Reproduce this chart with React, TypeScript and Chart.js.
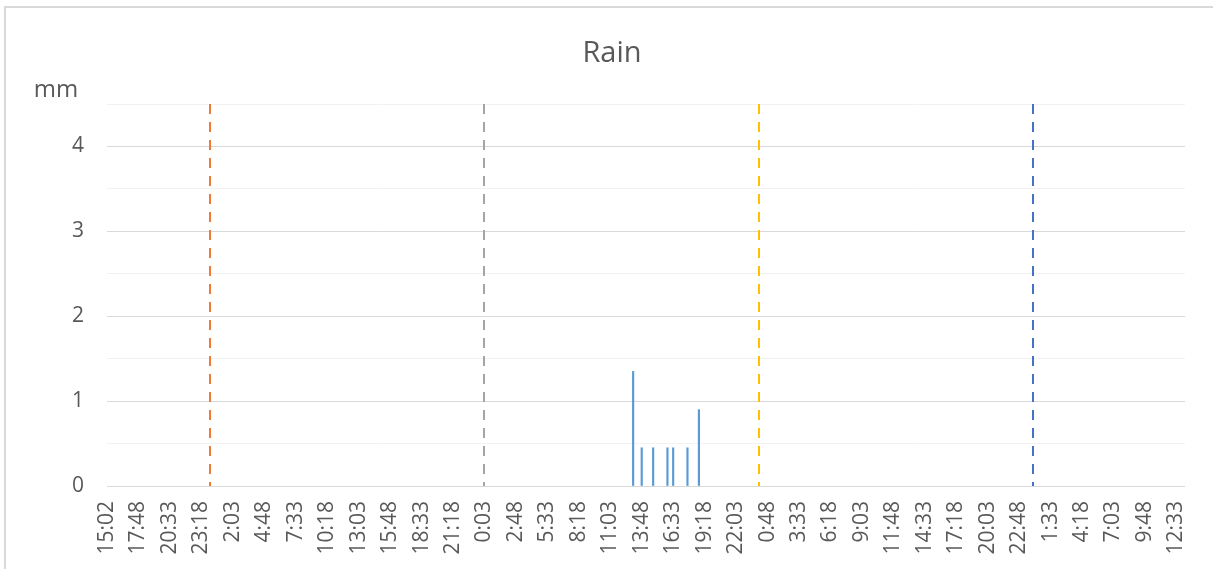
import { useEffect, useRef } from 'react';
import { Chart, registerables } from 'chart.js';

Chart.register(...registerables);

// ---- data ----
const firstReading = { day: 1, time: '15:02' };
const regularStart = { day: 1, time: '15:18' }; // readings every 15 min after the first one
const intervalMinutes = 15;
const pointCount = 378;
const labelEvery = 11;

const tickLabels = [
  '15:02', '17:48', '20:33', '23:18', '2:03', '4:48', '7:33', '10:18', '13:03', '15:48',
  '18:33', '21:18', '0:03', '2:48', '5:33', '8:18', '11:03', '13:48', '16:33', '19:18',
  '22:03', '0:48', '3:33', '6:18', '9:03', '11:48', '14:33', '17:18', '20:03', '22:48',
  '1:33', '4:18', '7:03', '9:48', '12:33',
];

const rainTimes = ['D3 13:03', 'D3 13:48', 'D3 14:48', 'D3 16:03', 'D3 16:33', 'D3 17:48', 'D3 18:48'];
const rainValues = [1.35, 0.45, 0.45, 0.45, 0.45, 0.45, 0.9];

const dayMarkers = ['D2 0:03', 'D3 0:03', 'D4 0:03', 'D5 0:03'];
const dayMarkerColors = ['#ed7d31', '#a5a5a5', '#ffc000', '#4472c4'];

// ---- category construction ----
function toMin(t: string) {
  const [h, m] = t.split(':').map(Number);
  return h * 60 + m;
}
function fmt(totalMin: number, day0: number) {
  const day = day0 + Math.floor(totalMin / 1440);
  const m = totalMin % 1440;
  return `D${day} ${Math.floor(m / 60)}:${String(m % 60).padStart(2, '0')}`;
}
const categories: string[] = [];
categories.push(`D${firstReading.day} ${firstReading.time}`);
for (let k = 1; k < pointCount; k++) {
  categories.push(fmt(toMin(regularStart.time) + (k - 1) * intervalMinutes, regularStart.day));
}

const TEXT = '#595959';
const FONT = "'Open Sans', 'Noto Sans', sans-serif";

const decorPlugin = {
  id: 'decor',
  beforeDraw(chart: any) {
    const { ctx } = chart;
    ctx.save();
    ctx.strokeStyle = '#d9d9d9';
    ctx.lineWidth = 2;
    ctx.beginPath();
    ctx.moveTo(5, chart.height);
    ctx.lineTo(5, 7);
    ctx.lineTo(chart.width, 7);
    ctx.stroke();
    ctx.restore();
  },
  afterDraw(chart: any) {
    const { ctx, chartArea } = chart;
    const xs = chart.scales.x;
    ctx.save();
    ctx.lineWidth = 2;
    ctx.setLineDash([10, 8]);
    dayMarkers.forEach((lab, i) => {
      const x = Math.round(xs.getPixelForValue(categories.indexOf(lab)));
      ctx.strokeStyle = dayMarkerColors[i];
      ctx.beginPath();
      ctx.moveTo(x, chartArea.top);
      ctx.lineTo(x, chartArea.bottom);
      ctx.stroke();
    });
    ctx.setLineDash([]);
    ctx.fillStyle = TEXT;
    ctx.textAlign = 'center';
    ctx.textBaseline = 'alphabetic';
    ctx.font = `29px ${FONT}`;
    ctx.fillText('Rain', 612, 62);
    ctx.font = `24px ${FONT}`;
    ctx.fillText('mm', 56, 97);
    ctx.restore();
  },
};

export default function App() {
  const ref = useRef<HTMLCanvasElement>(null);
  useEffect(() => {
    if (!ref.current) return;
    const chart = new Chart(ref.current, {
      type: 'bar',
      data: {
        labels: categories,
        datasets: [
          {
            label: 'Rain',
            data: rainTimes.map((t, i) => ({ x: t, y: rainValues[i] })) as any,
            backgroundColor: '#5b9bd5',
            barThickness: 1.5,
          },
        ],
      },
      options: {
        responsive: false,
        animation: false,
        devicePixelRatio: 1,
        layout: { padding: { top: 104, right: 28, left: 0, bottom: 0 } },
        plugins: { legend: { display: false }, title: { display: false }, tooltip: { enabled: false } },
        scales: {
          x: {
            offset: false,
            grid: { display: false, drawTicks: false },
            border: { display: false },
            ticks: {
              autoSkip: false,
              minRotation: 90,
              maxRotation: 90,
              padding: 15,
              color: TEXT,
              font: { family: FONT, size: 21 },
              callback: (_v: any, index: number) =>
                index % labelEvery === 0 ? tickLabels[index / labelEvery] ?? null : null,
            },
            afterFit: (s: any) => {
              s.height = 83;
              s.paddingLeft = 0;
              s.paddingRight = 0;
            },
          },
          y: {
            min: 0,
            max: 4.5,
            border: { display: false },
            grid: {
              drawTicks: false,
              color: (c: any) => (c.tick && Number.isInteger(c.tick.value) ? '#d9d9d9' : '#f2f2f2'),
            },
            ticks: {
              stepSize: 0.5,
              padding: 23,
              color: TEXT,
              font: { family: FONT, size: 21 },
              callback: (v: any) => (Number.isInteger(v) ? String(v) : ''),
            },
            afterFit: (s: any) => {
              s.width = 107;
              s.paddingTop = 0;
              s.paddingBottom = 0;
            },
          },
        },
      },
      plugins: [decorPlugin],
    });
    return () => chart.destroy();
  }, []);
  return (
    <div style={{ position: 'fixed', left: 0, top: 0, width: 1213, height: 569, background: '#fff' }}>
      <canvas ref={ref} width={1213} height={569} />
    </div>
  );
}
